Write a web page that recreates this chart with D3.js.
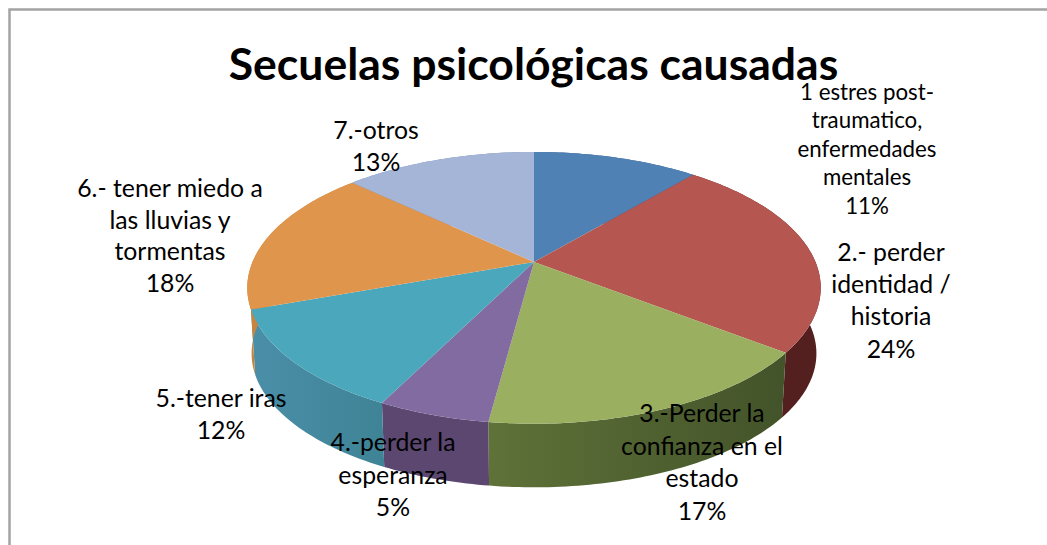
<!DOCTYPE html>
<html><head><meta charset="utf-8">
<script src="https://cdn.jsdelivr.net/npm/d3@7"></script>
<style>html,body{margin:0;padding:0;background:#fff;overflow:hidden}svg{display:block}text{font-family:Lato,"Open Sans",sans-serif;fill:#000;text-anchor:middle}</style>
</head><body><svg id="c" width="1047" height="545"></svg>
<script>
const chartTitle = "Secuelas psicológicas causadas";
const categories = [
  ["1 estres post-","traumatico,","enfermedades","mentales"],
  ["2.- perder","identidad /","historia"],
  ["3.-Perder la","confianza en el","estado"],
  ["4.-perder la","esperanza"],
  ["5.-tener iras"],
  ["6.- tener miedo a","las lluvias y","tormentas"],
  ["7.-otros"]
];
const values = [11.2, 24.3, 16.6, 5.3, 12.1, 17.5, 13.0];
const topColors = ["#4F81B5","#B55651","#9BAF60","#826BA0","#4BA7BB","#E0954C","#A4B5D8"];
const wallStart = ["#3A5F88","#54201F","#5F7238","#5C4770","#4A8FA8","#C8843E","#7E8EAE"];
const wallEnd   = ["#3A5F88","#54201F","#43532A","#5C4770","#3F8396","#C8843E","#7E8EAE"];
// Layout: centre x, first baseline, line height, font size of each label
const labelLayout = [
  {x:867,y:100,lh:28.4,fs:22.3},
  {x:891,y:261,lh:32.2,fs:24.8},
  {x:702,y:422,lh:32.5,fs:24.8},
  {x:393,y:451,lh:32.5,fs:24.8},
  {x:221,y:407,lh:32,fs:24.8},
  {x:170,y:197,lh:31.5,fs:24.8},
  {x:376,y:139,lh:32,fs:24.8}
];
const svg = d3.select("#c");
const frame = d3.path(); frame.moveTo(9.5,545); frame.lineTo(9.5,9.5); frame.lineTo(1047,9.5);
svg.append("path").attr("d",frame.toString()).attr("fill","none").attr("stroke","#A3A3A3").attr("stroke-width",2.5);

svg.append("text").attr("x",533.5).attr("y",80).attr("font-size",44.5).attr("font-weight",700).text(chartTitle);

const pie = d3.pie().sort(null)(values);
const cx=534, cy=262, A=281.5, B=131, k=-0.19, depth=66, shrink=0.985;
function proj(a, low){
  const u=Math.sin(a), v=-Math.cos(a), w=1+k*v;
  const s = low?shrink:1;
  return [cx+A*s*u/w, cy+B*s*v/w+(low?depth:0)];
}
const line=d3.line();
const STEP=Math.PI/180;
function arcPts(d,low,rev){
  const n=Math.ceil((d.endAngle-d.startAngle)/STEP);
  const pts=d3.range(n+1).map(j=>proj(d.startAngle+(d.endAngle-d.startAngle)*j/n,low));
  return rev?pts.reverse():pts;
}
const defs=svg.append("defs");
pie.forEach((d,i)=>{
  const p0=proj(d.startAngle), p1=proj(d.endAngle);
  const g=defs.append("linearGradient").attr("id","w"+i).attr("gradientUnits","userSpaceOnUse")
    .attr("x1",p0[0]).attr("y1",0).attr("x2",p1[0]).attr("y2",0);
  g.append("stop").attr("offset",0).attr("stop-color",wallEnd[i]);
  g.append("stop").attr("offset",1).attr("stop-color",wallStart[i]);
});
svg.append("g").selectAll("path").data(pie).join("path")
  .attr("d",d=>line([...arcPts(d,false,false),...arcPts(d,true,true)])+"Z")
  .attr("fill",(d,i)=>`url(#w${i})`);
svg.append("g").selectAll("path").data(pie).join("path")
  .attr("d",d=>line([[cx,cy],...arcPts(d,false,false)])+"Z")
  .attr("fill",(d,i)=>topColors[i]);

const total=d3.sum(values);
const pct=d3.format(".0%");
const labels=svg.append("g").selectAll("text").data(categories).join("text")
  .attr("font-size",(d,i)=>labelLayout[i].fs);
labels.each(function(c,i){
  const L=labelLayout[i];
  const t=d3.select(this);
  [...c,pct(values[i]/total)].forEach((s,j)=>{
    t.append("tspan").attr("x",L.x).attr("y",L.y+j*L.lh).text(s);
  });
});
</script></body></html>
